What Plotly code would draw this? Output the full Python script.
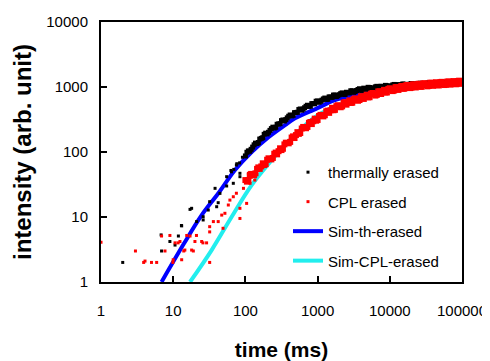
import plotly.graph_objects as go

# ---- data ----
# dense part of both measured series: two interleaved sets of time samples (ms)
t_dense = [100, 110, 120, 132, 145, 158, 174, 191, 209, 229, 251, 275, 302, 331, 363, 398,
           437, 479, 525, 575, 631, 692, 759, 832, 912, 1000, 1096, 1202, 1318, 1445, 1585,
           1738, 1905, 2089, 2291, 2512, 2754, 3020, 3311, 3631, 3981, 4365, 4786, 5248, 5754,
           6310, 6918, 7586, 8318, 9120, 10000, 10965, 12023, 13183, 14454, 15849, 17378,
           19055, 20893, 22909, 25119, 27542, 30200, 33113, 36308, 39811, 43652, 47863, 52481,
           57544, 63096, 69183, 75858, 83176, 91201, 100000]
t_dense2 = [105, 115, 126, 138, 151, 166, 182, 200, 219, 240, 263, 288, 316, 347, 380, 417, 457,
            501, 550, 603, 661, 724, 794, 871, 955, 1047, 1148, 1259, 1380, 1514, 1660, 1820,
            1995, 2188, 2399, 2630, 2884, 3162, 3467, 3802, 4169, 4571, 5012, 5495, 6026, 6607,
            7244, 7943, 8710, 9550, 10471, 11482, 12589, 13804, 15136, 16596, 18197, 19953,
            21878, 23988, 26303, 28840, 31623, 34674, 38019, 41687, 45709, 50119, 54954, 60256,
            66069, 72444, 79433, 87096, 95499]

thermal_dense = [87, 104, 110, 129, 135, 158, 166, 195, 201, 229, 234, 267, 273, 311, 315, 355,
                 360, 403, 408, 459, 457, 505, 503, 555, 553, 610, 601, 655, 645, 705, 693, 752,
                 733, 791, 772, 830, 810, 873, 853, 916, 894, 960, 922, 982, 943, 1004, 966, 1028,
                 988, 1049, 1010, 1074, 1033, 1091, 1044, 1102, 1052, 1112, 1062, 1122, 1072, 1132,
                 1082, 1143, 1092, 1151, 1099, 1161, 1110, 1172, 1120, 1183, 1130, 1194, 1140, 1190]
thermal_dense2 = [99, 103, 119, 137, 140, 162, 187, 190, 215, 241, 240, 270, 304, 300, 335, 371,
                  366, 406, 450, 440, 480, 524, 507, 554, 604, 581, 627, 676, 647, 699, 751, 712,
                  761, 812, 768, 819, 874, 828, 883, 940, 889, 941, 989, 924, 973, 1024, 956, 1008,
                  1059, 988, 1041, 1095, 1019, 1066, 1114, 1033, 1081, 1129, 1047, 1096, 1145,
                  1062, 1111, 1161, 1075, 1124, 1174, 1090, 1140, 1191, 1104, 1156, 1207, 1119, 1172]

cpl_dense = [37, 37, 46, 44, 55, 55, 67, 65, 80, 77, 94, 92, 114, 112, 139, 136, 167, 164, 202,
             196, 243, 232, 281, 269, 326, 311, 373, 353, 423, 400, 479, 445, 525, 488, 576, 535,
             624, 573, 669, 614, 717, 655, 761, 696, 808, 738, 855, 780, 904, 824, 956, 865, 996,
             901, 1038, 940, 1073, 962, 1097, 984, 1122, 1005, 1144, 1024, 1165, 1042, 1184, 1058,
             1200, 1072, 1217, 1087, 1234, 1102, 1251, 1118]
cpl_dense2 = [35, 43, 45, 47, 58, 60, 63, 76, 78, 81, 98, 103, 107, 131, 138, 143, 174, 182, 190,
              230, 238, 243, 289, 297, 303, 358, 363, 368, 433, 438, 439, 508, 507, 504, 584, 579,
              569, 651, 642, 631, 720, 707, 693, 789, 773, 756, 859, 841, 822, 933, 911, 884, 996,
              969, 940, 1056, 1017, 978, 1093, 1053, 1011, 1128, 1084, 1039, 1159, 1113, 1065,
              1184, 1136, 1087, 1210, 1160, 1110, 1235, 1184]

# sparse early points
thermal_t = [2, 6.8, 6.9, 9.0, 10.6, 11.8, 13.1, 13, 17.1, 18, 21.1, 26, 26, 30.6, 32, 38, 40, 42,
             44.4, 55, 55, 63, 64, 68, 69, 75, 76, 83, 84, 84, 91]
thermal_I = [2, 5.3, 3.0, 4.2, 3.7, 5.1, 7.3, 7.4, 13.1, 13.6, 8.5, 10.1, 9, 12.8, 17.2, 27.6,
             14.4, 16.6, 23.1, 41.7, 30, 52, 49.6, 33, 54, 63, 66, 68, 47, 41.7, 83]

cpl_t = [1, 3, 3.9, 4.07, 5.0, 5.9, 6.9, 7.7, 9, 9.9, 10, 10.6, 11.7, 12.4, 13.1, 14, 14.5, 15.4,
         17.1, 18, 19, 20, 21, 24.8, 25.8, 29, 32, 32, 32, 36, 42, 47, 49, 52, 58, 61, 68, 75, 84,
         84, 94, 104, 110, 116, 135, 150]
cpl_I = [4.1, 3, 2, 2.1, 2, 2, 5.1, 3, 5.2, 2, 2.2, 4, 4, 4.2, 2.2, 3, 3.1, 5.2, 5.1, 3.1, 3,
         4.2, 5.2, 4.2, 4, 4, 2, 5.9, 7.1, 8.5, 8.5, 10.7, 6.7, 11.4, 15.3, 18.2, 20.5, 23.2, 13.6,
         9.5, 27.6, 16.2, 47, 33, 37, 53]

# simulations
sim_th_t = [6.9, 14.1, 24.8, 42.2, 71.8, 122, 207, 354, 486, 977, 1660, 3162, 6310, 12589, 31623, 100000]
sim_th_I = [1.0, 3.9, 10.7, 23.2, 52.8, 100, 168, 260, 330, 468, 617, 759, 891, 1000, 1072, 1122]

sim_cpl_t = [17.1, 34.1, 64.6, 122, 231, 354, 871, 1585, 3162, 6310, 12589, 31623, 100000]
sim_cpl_I = [1.0, 3.1, 10.1, 31, 75, 128, 330, 479, 631, 794, 955, 1072, 1122]

x_ticks = [1, 10, 100, 1000, 10000, 100000]
y_ticks = [1, 10, 100, 1000, 10000]

BLACK = "#000000"
RED = "#ff0000"
BLUE = "#0000ff"
CYAN = "#22eeee"

fig = go.Figure()

fig.add_trace(go.Scatter(x=sim_th_t, y=sim_th_I, mode="lines", name="Sim-th-erased",
                         line=dict(color=BLUE, width=4, shape="spline"),
                         legendgroup="c", legendrank=3))
fig.add_trace(go.Scatter(x=sim_cpl_t, y=sim_cpl_I, mode="lines", name="Sim-CPL-erased",
                         line=dict(color=CYAN, width=4, shape="spline"),
                         legendgroup="d", legendrank=4))

fig.add_trace(go.Scatter(x=thermal_t, y=thermal_I, mode="markers", name="thermally erased",
                         marker=dict(color=BLACK, size=3, symbol="square"),
                         legendgroup="a", legendrank=1))
fig.add_trace(go.Scatter(x=t_dense + t_dense2, y=thermal_dense + thermal_dense2, mode="markers",
                         name="thermally erased",
                         marker=dict(color=BLACK, size=5, symbol="square"),
                         legendgroup="a", showlegend=False))
fig.add_trace(go.Scatter(x=cpl_t, y=cpl_I, mode="markers", name="CPL erased",
                         marker=dict(color=RED, size=3, symbol="square"),
                         legendgroup="b", legendrank=2))
fig.add_trace(go.Scatter(x=t_dense + t_dense2, y=cpl_dense + cpl_dense2, mode="markers",
                         name="CPL erased",
                         marker=dict(color=RED, size=6, symbol="square"),
                         legendgroup="b", showlegend=False))

axis_font = dict(family="Liberation Sans, Arial, sans-serif", size=15, color="black")
xtitle_font = dict(family="Liberation Sans, Arial, sans-serif", size=21, color="black", weight="bold")
ytitle_font = dict(family="Liberation Sans, Arial, sans-serif", size=24, color="black", weight="bold")

# the page body adds an 8px offset, so the figure is 8px smaller than the window
fig.update_layout(
    width=482, height=353,
    margin=dict(l=93, r=28, t=14, b=79),
    paper_bgcolor="white", plot_bgcolor="white",
    font=axis_font,
    showlegend=True,
    legend=dict(x=0.518, y=0.485, xanchor="left", yanchor="top",
                bgcolor="rgba(0,0,0,0)", borderwidth=0,
                font=dict(size=15, color="black"),
                tracegroupgap=7, traceorder="grouped"),
    xaxis=dict(type="log", range=[0, 5], tickvals=x_ticks, ticktext=[str(v) for v in x_ticks],
               ticks="inside", ticklen=6, tickwidth=1.5, tickcolor="black",
               showline=True, linecolor="black", linewidth=2, mirror=True,
               showgrid=False, zeroline=False, ticklabelstandoff=14,
               title=dict(text="time (ms)", font=xtitle_font, standoff=24),
               automargin=False, tickfont=axis_font),
    yaxis=dict(type="log", range=[0, 4], tickvals=y_ticks, ticktext=[str(v) for v in y_ticks],
               ticks="inside", ticklen=6, tickwidth=1.5, tickcolor="black",
               showline=True, linecolor="black", linewidth=2, mirror=True,
               showgrid=False, zeroline=False, ticklabelstandoff=8,
               title=dict(text="intensity (arb. unit)", font=ytitle_font, standoff=8),
               automargin=False, tickfont=axis_font),
)

fig.write_html("out.html")
